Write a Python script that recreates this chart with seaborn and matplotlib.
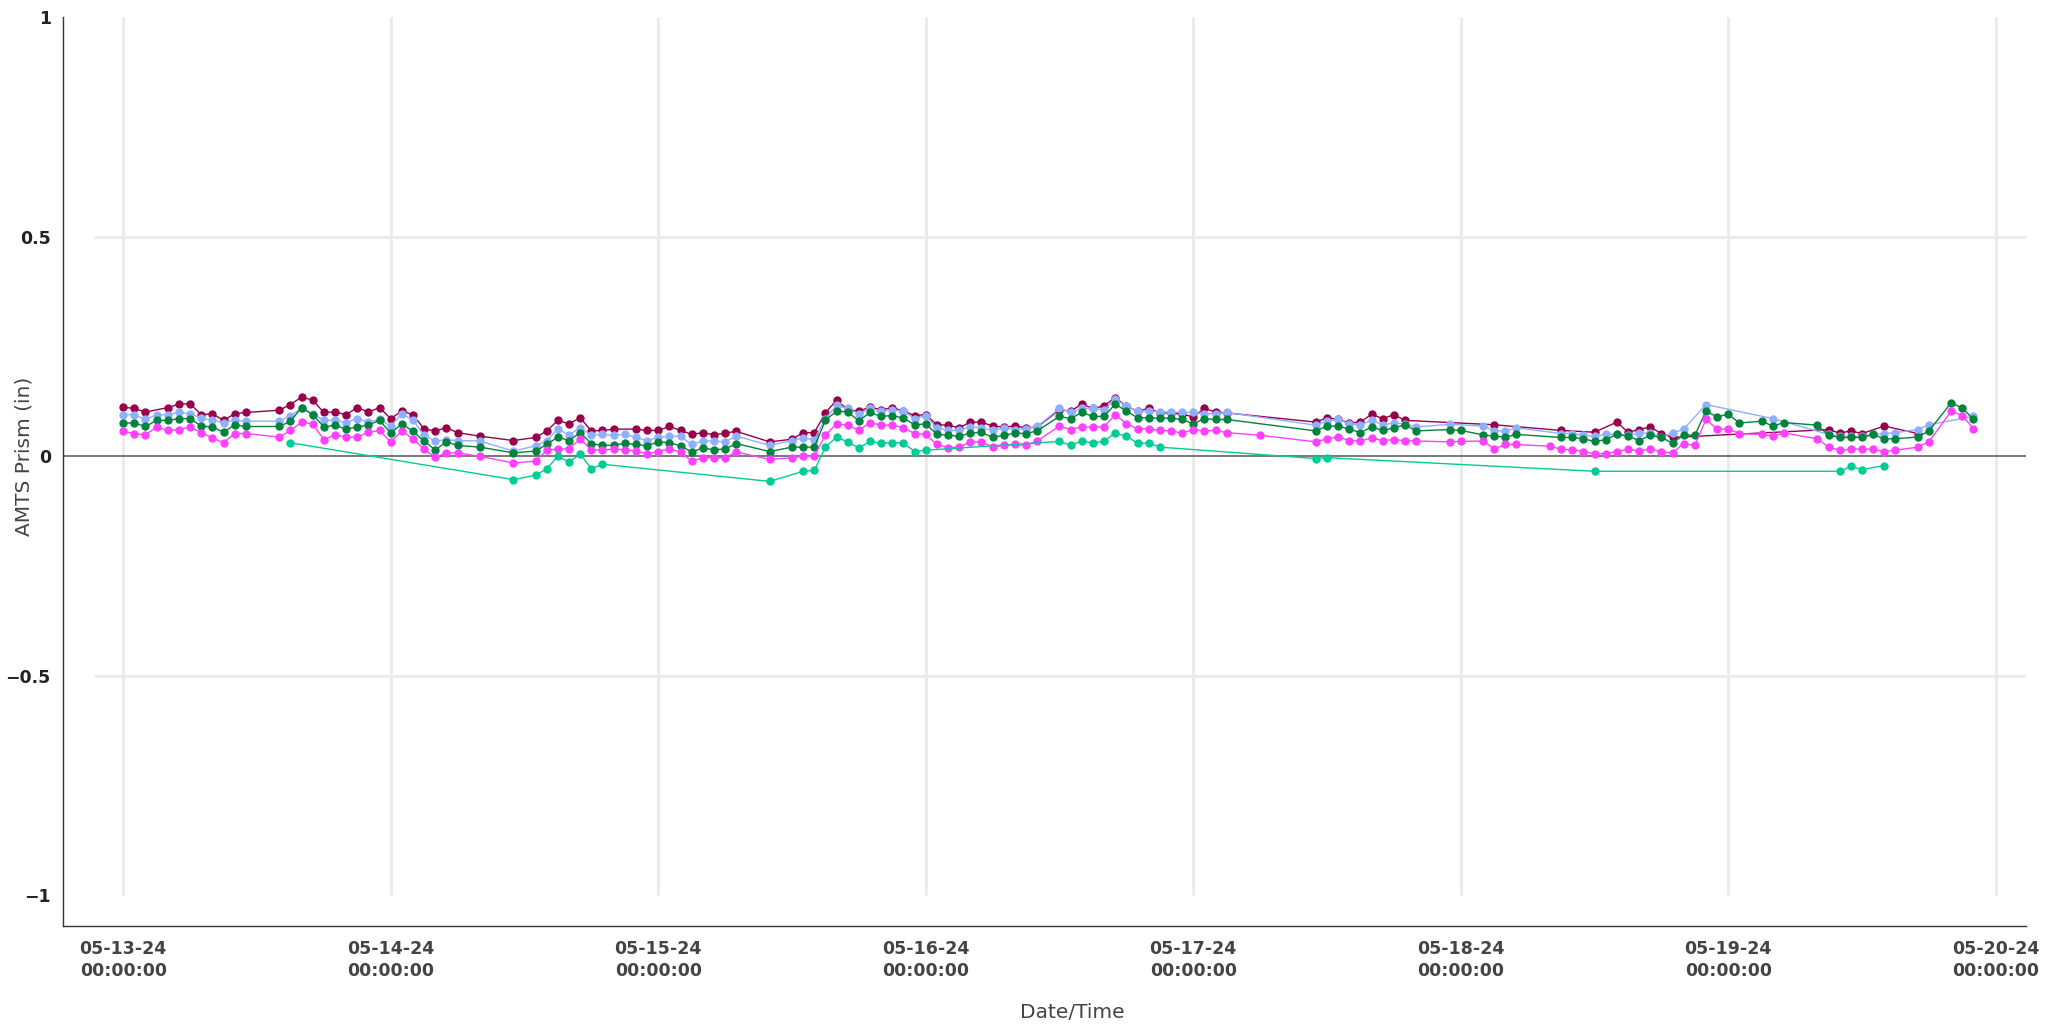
import numpy as np
import pandas as pd
import matplotlib
matplotlib.use("Agg")
import matplotlib.pyplot as plt
import matplotlib.dates as mdates
import seaborn as sns

# ---------------- data (hours after 05-13-24 00:00, AMTS prism in inches) ----------------
start_time = "2024-05-13 00:00:00"

maroon_hours = [0, 1, 2, 4, 5, 6, 7, 8, 9, 10, 11, 14, 15, 16, 17, 18, 19, 20, 21, 22, 23, 24, 25, 26,
                27, 28, 29, 30, 32, 35, 37, 38, 39, 40, 41, 42, 43, 44, 46, 47, 48, 49, 50, 51, 52, 53,
                54, 55, 58, 60, 61, 62, 63, 64, 65, 66, 67, 68, 69, 70, 71, 72, 73, 74, 75, 76, 77, 78,
                79, 80, 81, 82, 84, 85, 86, 87, 88, 89, 90, 91, 92, 93, 94, 95, 96, 97, 98, 99, 107,
                108, 109, 110, 111, 112, 113, 114, 115, 123, 129, 132, 134, 135, 136, 137, 138, 139,
                153, 154, 155, 156, 158, 161]
maroon_values = [.112, .109, .101, .111, .119, .120, .095, .097, .082, .097, .100, .105, .118, .135, .128,
                 .100, .101, .095, .111, .101, .111, .086, .103, .095, .062, .058, .065, .054, .046, .036,
                 .043, .058, .082, .074, .088, .058, .059, .062, .062, .059, .059, .068, .059, .050, .054,
                 .049, .053, .057, .033, .039, .054, .054, .099, .128, .106, .103, .112, .106, .111, .103,
                 .093, .095, .072, .071, .065, .078, .078, .069, .067, .069, .065, .067, .106, .103, .119,
                 .109, .115, .134, .114, .103, .109, .099, .099, .096, .090, .109, .101, .099, .078, .088,
                 .084, .076, .078, .096, .086, .095, .082, .072, .059, .055, .078, .055, .061, .067, .052,
                 .043, .061, .053, .058, .052, .069, .052]

blue_hours = [0, 1, 2, 3, 4, 5, 6, 7, 8, 9, 10, 11, 14, 15, 16, 17, 18, 19, 20, 21, 22, 23, 24, 25, 26,
              27, 28, 29, 30, 32, 35, 37, 38, 39, 40, 41, 42, 43, 44, 45, 46, 47, 48, 49, 50, 51, 52, 53,
              54, 55, 58, 60, 61, 62, 63, 64, 65, 66, 67, 68, 69, 70, 71, 72, 73, 74, 75, 76, 77, 78, 79,
              80, 81, 82, 84, 85, 86, 87, 88, 89, 90, 91, 92, 93, 94, 95, 96, 97, 98, 99, 107, 108, 109,
              110, 111, 112, 113, 114, 115, 116, 119, 122, 123, 124, 125, 129, 130, 131, 132, 133, 134,
              135, 136, 137, 138, 139, 140, 142, 148, 153, 154, 155, 156, 157, 158, 159, 161, 162, 166]
blue_values = [.095, .095, .084, .095, .095, .100, .097, .087, .082, .077, .082, .080, .080, .093, .109,
               .097, .082, .082, .077, .086, .078, .084, .069, .097, .082, .048, .035, .038, .036, .035,
               .012, .024, .036, .062, .049, .065, .048, .050, .048, .050, .043, .036, .043, .046, .046,
               .027, .035, .035, .033, .046, .025, .036, .042, .038, .086, .116, .109, .097, .109, .103,
               .106, .103, .086, .093, .065, .059, .059, .067, .065, .059, .065, .061, .063, .068, .109,
               .101, .109, .109, .106, .131, .114, .103, .103, .101, .101, .100, .100, .097, .097, .100,
               .071, .080, .084, .074, .071, .082, .072, .076, .074, .067, .073, .069, .058, .058, .065,
               .052, .052, .048, .046, .050, .050, .048, .053, .053, .044, .053, .062, .118, .086, .050,
               .046, .046, .046, .050, .052, .054, .061, .072, .091]

green_hours = [0, 1, 2, 3, 4, 5, 6, 7, 8, 9, 10, 11, 14, 15, 16, 17, 18, 19, 20, 21, 22, 23, 24, 25, 26,
               27, 28, 29, 30, 32, 35, 37, 38, 39, 40, 41, 42, 43, 44, 45, 46, 47, 48, 49, 50, 51, 52, 53,
               54, 55, 58, 60, 61, 62, 63, 64, 65, 66, 67, 68, 69, 70, 71, 72, 73, 74, 75, 76, 77, 78, 79,
               80, 81, 82, 84, 85, 86, 87, 88, 89, 90, 91, 92, 93, 94, 95, 96, 97, 98, 99, 107, 108, 109,
               110, 111, 112, 113, 114, 115, 116, 119, 120, 122, 123, 124, 125, 129, 130, 131, 132, 133,
               134, 135, 136, 137, 138, 139, 140, 141, 142, 143, 144, 145, 147, 148, 149, 152, 153, 154,
               155, 156, 157, 158, 159, 161, 162, 164, 165, 166]
green_values = [.076, .076, .068, .082, .082, .086, .086, .069, .067, .055, .072, .068, .068, .080, .111,
                .095, .067, .071, .062, .067, .071, .082, .053, .074, .057, .034, .015, .033, .025, .021,
                .008, .012, .027, .044, .036, .054, .029, .025, .025, .030, .027, .024, .033, .031, .024,
                .010, .019, .015, .017, .029, .011, .021, .021, .021, .082, .103, .101, .081, .100, .091,
                .093, .087, .072, .074, .050, .048, .046, .053, .055, .043, .048, .053, .052, .058, .091,
                .086, .100, .091, .091, .119, .103, .088, .088, .087, .087, .084, .074, .086, .084, .084,
                .058, .069, .069, .062, .054, .067, .059, .065, .072, .058, .061, .059, .049, .046, .044,
                .050, .043, .043, .040, .034, .038, .050, .046, .036, .048, .043, .030, .049, .048, .103,
                .090, .096, .076, .080, .069, .077, .071, .048, .043, .043, .043, .050, .040, .040, .044,
                .058, .122, .110, .084]

magenta_hours = [0, 1, 2, 3, 4, 5, 6, 7, 8, 9, 10, 11, 14, 15, 16, 17, 18, 19, 20, 21, 22, 23, 24, 25,
                 26, 27, 28, 29, 30, 32, 35, 37, 38, 39, 40, 41, 42, 43, 44, 45, 46, 47, 48, 49, 50, 51,
                 52, 53, 54, 55, 58, 60, 61, 62, 63, 64, 65, 66, 67, 68, 69, 70, 71, 72, 73, 74, 75, 76,
                 77, 78, 79, 80, 81, 82, 84, 85, 86, 87, 88, 89, 90, 91, 92, 93, 94, 95, 96, 97, 98, 99,
                 102, 107, 108, 109, 110, 111, 112, 113, 114, 115, 116, 119, 120, 122, 123, 124, 125, 128,
                 129, 130, 131, 132, 133, 134, 135, 136, 137, 138, 139, 140, 141, 142, 143, 144, 145, 147,
                 148, 149, 152, 153, 154, 155, 156, 157, 158, 159, 161, 162, 164, 165, 166]
magenta_values = [.057, .052, .049, .067, .059, .061, .067, .054, .042, .031, .052, .052, .044, .059, .078,
                  .074, .038, .049, .044, .044, .055, .059, .033, .058, .040, .016, -.002, .008, .008, .000,
                  -.015, -.011, .014, .017, .017, .040, .014, .015, .016, .015, .012, .006, .011, .017, .010,
                  -.011, -.003, -.003, -.003, .010, -.007, -.003, .000, .000, .049, .074, .071, .059, .077,
                  .071, .071, .065, .052, .050, .027, .020, .021, .033, .033, .021, .025, .027, .025, .035,
                  .069, .061, .067, .067, .067, .095, .074, .063, .063, .059, .058, .053, .061, .058, .059,
                  .054, .048, .033, .040, .044, .036, .035, .042, .036, .038, .036, .035, .033, .034, .035,
                  .017, .027, .027, .023, .016, .015, .011, .006, .006, .011, .016, .012, .017, .010, .008,
                  .029, .025, .084, .062, .062, .052, .050, .046, .053, .040, .021, .014, .016, .017, .016,
                  .011, .014, .021, .033, .103, .093, .063]

teal_hours = [15, 35, 37, 38, 39, 40, 41, 42, 43, 58, 61, 62, 63, 64, 65, 66, 67, 68, 69, 70, 71, 72,
              84, 85, 86, 87, 88, 89, 90, 91, 92, 93, 107, 108, 132, 154, 155, 156, 158]
teal_values = [.031, -.053, -.043, -.028, .000, -.013, .005, -.028, -.018, -.057, -.034, -.032, .021,
               .044, .033, .019, .034, .030, .031, .031, .011, .014, .034, .025, .035, .030, .035, .053,
               .046, .030, .030, .021, -.005, -.003, -.034, -.034, -.023, -.030, -.021]

series_names = ["Prism 1", "Prism 2", "Prism 3", "Prism 4", "Prism 5"]
series_colors = ["#99004c", "#8fb0ff", "#00843d", "#ff40ff", "#00cc96"]

y_ticks = [-1, -0.5, 0, 0.5, 1]
y_tick_labels = ["\u22121", "\u22120.5", "0", "0.5", "1"]
x_label = "Date/Time"
y_label = "AMTS Prism (in)"

# ---------------- build long table ----------------
base = pd.Timestamp(start_time)
frames = []
for name, hrs, vals in zip(series_names,
                           [maroon_hours, blue_hours, green_hours, magenta_hours, teal_hours],
                           [maroon_values, blue_values, green_values, magenta_values, teal_values]):
    frames.append(pd.DataFrame({"time": base + pd.to_timedelta(hrs, unit="h"),
                                "value": vals, "series": name}))
df = pd.concat(frames, ignore_index=True)

# ---------------- figure ----------------
sns.set_theme(style="white")
plt.rcParams["font.family"] = ["DejaVu Sans"]

W, H = 2069, 1030
fig = plt.figure(figsize=(W / 100, H / 100), dpi=100)
ax_left, ax_right, ax_top, ax_bottom = 63, 2026, 17.3, 925.7
ax = fig.add_axes([ax_left / W, (H - ax_bottom) / H, (ax_right - ax_left) / W, (ax_bottom - ax_top) / H])

sns.lineplot(data=df, x="time", y="value", hue="series", hue_order=series_names,
             palette=dict(zip(series_names, series_colors)), marker="o", markersize=6.0,
             markeredgewidth=0, linewidth=1.0, estimator=None, sort=True, legend=False,
             ax=ax, zorder=3)

day0 = mdates.date2num(base)
days = [day0 + i for i in range(8)]
x_lo, x_hi = day0 - 0.225, day0 + 7.113
ax.set_xlim(x_lo, x_hi)
ax.set_ylim(-1.069, 1.0)

# grid
ax.vlines(days, -1, 1, color="#ebebeb", lw=2.2, zorder=0)
ax.hlines([-0.5, 0.5], day0 - 0.11, x_hi, color="#ebebeb", lw=2.2, zorder=0)
ax.axhline(0, color="#555555", lw=1.1, zorder=1)

# spines
for s in ["top", "right"]:
    ax.spines[s].set_visible(False)
for s in ["left", "bottom"]:
    ax.spines[s].set_color("#333333")
    ax.spines[s].set_linewidth(1.0)

# ticks
ax.xaxis.set_major_locator(mdates.DayLocator())
ax.xaxis.set_minor_locator(mdates.HourLocator(byhour=[6, 12, 18]))
ax.xaxis.set_major_formatter(mdates.DateFormatter("%m-%d-%y\n%H:%M:%S"))
ax.tick_params(axis="x", which="major", direction="inout", length=11, width=1.0,
               color="#333333", pad=5, labelsize=12.5, labelcolor="#444444")
ax.tick_params(axis="x", which="minor", direction="in", length=4.5, width=1.0, color="#333333")
ax.set_yticks(y_ticks)
ax.set_yticklabels(y_tick_labels)
ax.tick_params(axis="y", which="major", direction="out", length=5.8, width=1.0,
               color="#333333", pad=3, labelsize=12.5, labelcolor="#222222")
fig.canvas.draw()
for lab in ax.get_xticklabels():
    lab.set_fontweight("bold")
    lab.set_linespacing(1.3)
for lab in ax.get_yticklabels():
    lab.set_fontweight("bold")

# axis titles, centred on the gridded region
ax.set_xlabel(x_label, fontsize=14.5, color="#444444", va="center")
ax.xaxis.set_label_coords((1072 - ax_left) / (ax_right - ax_left), (ax_bottom - 1012) / (ax_bottom - ax_top))
ax.set_ylabel(y_label, fontsize=14.5, color="#444444", va="center")
ax.yaxis.set_label_coords((24 - ax_left) / (ax_right - ax_left), (ax_bottom - 456) / (ax_bottom - ax_top))

fig.savefig("out.png", dpi=100)
